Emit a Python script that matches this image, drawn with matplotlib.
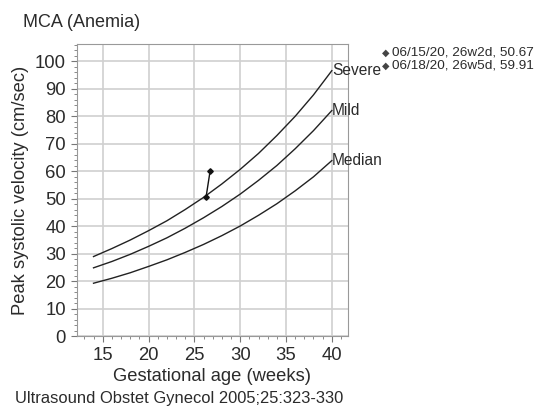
import matplotlib
matplotlib.use("Agg")
import matplotlib.pyplot as plt
from matplotlib.ticker import MultipleLocator

plt.rcParams['font.family'] = ['Liberation Sans', 'DejaVu Sans']

weeks = [14, 16, 18, 20, 22, 24, 26, 28, 30, 32, 34, 36, 38, 40]
median = [19.2, 21.0, 23.0, 25.3, 27.7, 30.4, 33.3, 36.5, 40.0, 43.9, 48.1, 52.8, 57.9, 63.8]
mild = [24.8, 27.1, 29.7, 32.6, 35.7, 39.2, 43.0, 47.1, 51.6, 56.6, 62.0, 68.1, 74.7, 82.0]
severe = [28.9, 31.8, 34.9, 38.3, 41.9, 46.0, 50.4, 55.3, 60.6, 66.4, 72.9, 79.9, 87.7, 96.5]
curve_labels = ["Severe", "Mild", "Median"]

patient_ga = [26 + 2/7, 26 + 5/7]
patient_psv = [50.67, 59.91]
patient_labels = ["06/15/20, 26w2d, 50.67", "06/18/20, 26w5d, 59.91"]

xticks = [15, 20, 25, 30, 35, 40]
yticks = [0, 10, 20, 30, 40, 50, 60, 70, 80, 90, 100]

txt = '#2b2b2b'
fig = plt.figure(figsize=(5.36, 4.07), dpi=100)
ax = fig.add_axes([0.1437, 0.1744, 0.5053, 0.7175])

for vals, lab in zip([severe, mild, median], curve_labels):
    ax.plot(weeks, vals, color='#222222', lw=1.0)
    ax.text(weeks[-1], vals[-1], lab, fontsize=11.2, color=txt, ha='left', va='center')

ax.plot(patient_ga, patient_psv, color='#111111', lw=1.0, marker='D', ms=2.8)

ax.set_xlim(12.2, 41.75)
ax.set_ylim(0, 106.2)
ax.set_xticks(xticks)
ax.set_yticks(yticks)
ax.xaxis.set_minor_locator(MultipleLocator(1))
ax.yaxis.set_minor_locator(MultipleLocator(2))
ax.grid(True, which='major', color='#d0d0d0', lw=1.2)
ax.set_axisbelow(True)
for s in ax.spines.values():
    s.set_color('#999999')
ax.tick_params(which='major', length=4, color='#777777', labelsize=13.3, labelcolor=txt, pad=4)
ax.tick_params(which='minor', length=2, color='#777777')

ax.set_xlabel("Gestational age (weeks)", fontsize=13.2, color=txt, labelpad=3)
ax.set_ylabel("Peak systolic velocity (cm/sec)", fontsize=13.2, color=txt, labelpad=4)

fig.text(0.042, 0.944, "MCA (Anemia)", fontsize=13, color=txt, ha='left', va='center')
fig.text(0.028, 0.022, "Ultrasound Obstet Gynecol 2005;25:323-330", fontsize=11.9, color=txt,
         ha='left', va='center')

for i, lab in enumerate(patient_labels):
    yy = 0.8705 - i * 0.0325
    fig.text(0.713, yy, "\u25c6", fontsize=7, color='#444444', ha='left', va='center',
             family=['DejaVu Sans'])
    fig.text(0.731, yy, lab, fontsize=9.7, color=txt, ha='left', va='center')

fig.savefig("out.png", dpi=100)
